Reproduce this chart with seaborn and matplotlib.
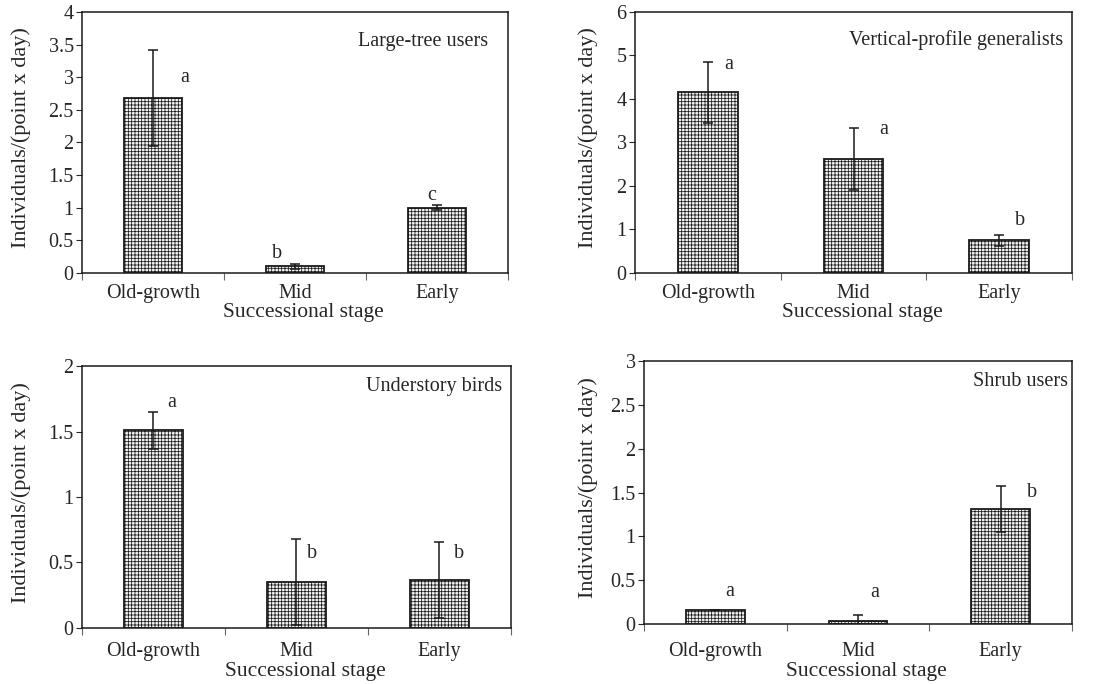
import matplotlib
matplotlib.use("Agg")
import matplotlib.pyplot as plt
import seaborn as sns
import numpy as np
import pandas as pd
from matplotlib.ticker import FixedLocator, FuncFormatter

# ---------------- data ----------------
stages = ["Old-growth", "Mid", "Early"]

large_tree_mean = [2.68, 0.10, 1.00]
large_tree_err = [0.73, 0.04, 0.04]
large_tree_letters = ["a", "b", "c"]

vertical_mean = [4.15, 2.62, 0.75]
vertical_err = [0.71, 0.71, 0.12]
vertical_letters = ["a", "a", "b"]

understory_mean = [1.51, 0.35, 0.37]
understory_err = [0.14, 0.33, 0.29]
understory_letters = ["a", "b", "b"]

shrub_mean = [0.16, 0.04, 1.31]
shrub_err = [0.0, 0.06, 0.26]
shrub_letters = ["a", "a", "b"]

titles = ["Large-tree users", "Vertical-profile generalists", "Understory birds", "Shrub users"]
y_max = [4, 6, 2, 3]
y_step = [0.5, 1, 0.5, 0.5]

# ---------------- style ----------------
sns.set_style("white")
plt.rcParams["font.family"] = ["Liberation Serif", "DejaVu Serif"]
plt.rcParams["hatch.color"] = "#9a9a9a"
plt.rcParams["hatch.linewidth"] = 0.55

fig = plt.figure(figsize=(10.93, 6.84), dpi=100)

axes_rect = [
    [0.075, 0.6009, 0.3898, 0.3816],
    [0.581, 0.6009, 0.3998, 0.3816],
    [0.075, 0.0819, 0.3925, 0.3830],
    [0.5892, 0.0877, 0.3916, 0.3845],
]
panels = [
    (large_tree_mean, large_tree_err, large_tree_letters),
    (vertical_mean, vertical_err, vertical_letters),
    (understory_mean, understory_err, understory_letters),
    (shrub_mean, shrub_err, shrub_letters),
]
# letter placement (x offset from category centre, height in data units)
letter_dx = [[0.22, -0.13, -0.04], [0.14, 0.21, 0.14], [0.13, 0.11, 0.14], [0.10, 0.12, 0.22]]
letter_y = [[3.0, 0.30, 1.18], [4.8, 3.3, 1.2], [1.72, 0.57, 0.57], [0.37, 0.36, 1.50]]
title_xy = [(0.953, 0.885), (0.979, 0.893), (0.979, 0.92), (0.99, 0.924)]
ylabel_x = [-51 / 426, -37 / 437, -51 / 429, -46 / 428]
xlabel_y = [-0.115, -0.115, -0.13, -0.145]
xtick_pad = [8, 8, 10, 13]

fmt = FuncFormatter(lambda v, p: ("%g" % v))

for i, (rect, (means, errs, letters)) in enumerate(zip(axes_rect, panels)):
    ax = fig.add_axes(rect)
    df = pd.DataFrame({"stage": stages, "value": means})
    sns.barplot(data=df, x="stage", y="value", ax=ax, color="white",
                width=0.41, errorbar=None, edgecolor="#1a1a1a", linewidth=1.3,
                saturation=1)
    for p in ax.patches:
        p.set_hatch("+++++")
        p.set_facecolor("#f2f2f2")
    xpos = np.arange(len(stages))
    ax.errorbar(xpos, means, yerr=errs, fmt="none", ecolor="#1a1a1a",
                elinewidth=1.1, capsize=3.5, capthick=1.1)
    for j, lt in enumerate(letters):
        ax.text(xpos[j] + letter_dx[i][j], letter_y[i][j], lt, ha="center",
                va="center", fontsize=14.5)
    ax.text(title_xy[i][0], title_xy[i][1], titles[i], transform=ax.transAxes,
            ha="right", va="center", fontsize=14.5)

    ax.set_xlim(-0.5, 2.5)
    ax.set_ylim(0, y_max[i])
    ax.yaxis.set_major_locator(FixedLocator(np.arange(0, y_max[i] + 1e-9, y_step[i])))
    ax.yaxis.set_major_formatter(fmt)
    ax.xaxis.set_minor_locator(FixedLocator([-0.5, 0.5, 1.5, 2.5]))
    ax.tick_params(axis="x", which="major", length=0, pad=xtick_pad[i], labelsize=14.5)
    ax.tick_params(axis="x", which="minor", length=5, width=0.8, direction="out",
                   color="#666666", bottom=True)
    ax.tick_params(axis="y", which="major", length=4, width=0.8, direction="out",
                   left=True, labelsize=14.5, pad=2)
    for s in ax.spines.values():
        s.set_color("#1a1a1a")
        s.set_linewidth(1.1)
    ax.set_xlabel("Successional stage", fontsize=15.5)
    ax.set_ylabel("Individuals/(point x day)", fontsize=16)
    ax.xaxis.set_label_coords(0.52, xlabel_y[i])
    ax.yaxis.set_label_coords(ylabel_x[i], 0.517)

fig.savefig("out.png", dpi=100)
